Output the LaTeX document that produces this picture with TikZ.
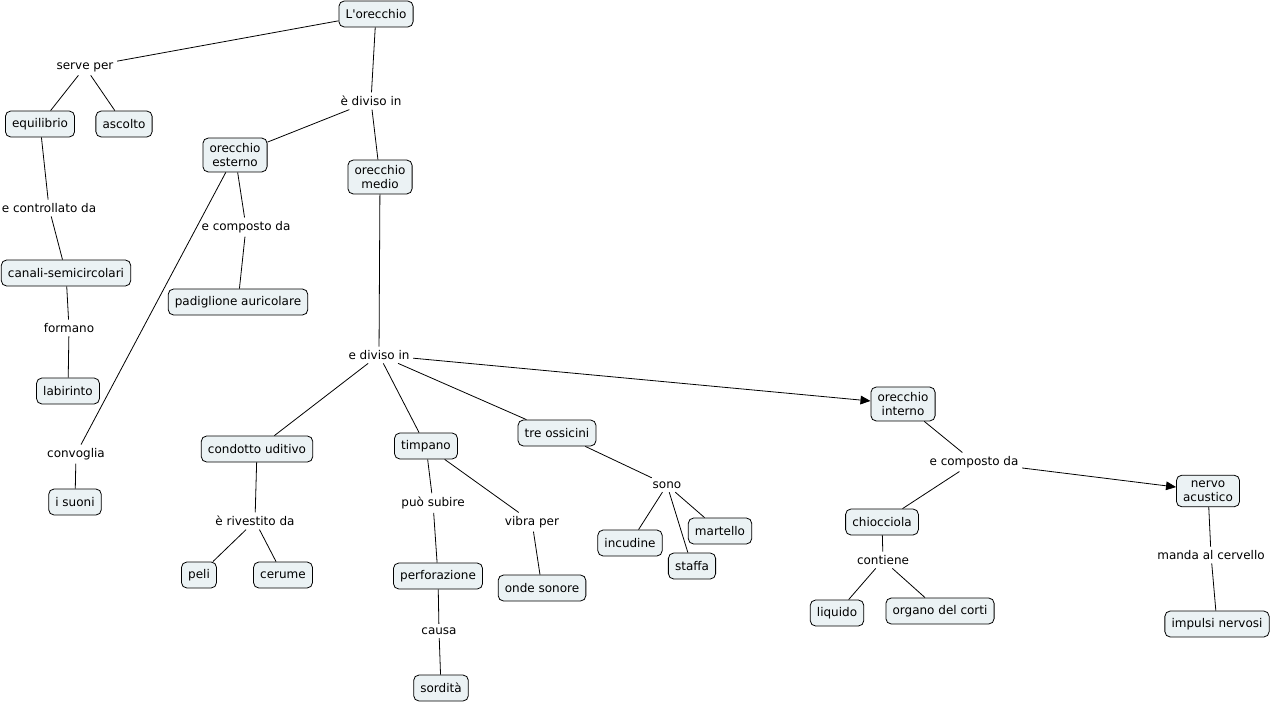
\documentclass[tikz,border=0pt]{standalone}
\usepackage{fontspec}
\setmainfont{DejaVu Sans}
\usetikzlibrary{arrows.meta,positioning}
\definecolor{cfill}{HTML}{EBF2F4}

\begin{document}
\begin{tikzpicture}[x=0.75pt,y=-0.75pt,semithick,font=\fontsize{9}{10.5}\selectfont,
    concept/.style={draw,rounded corners=4pt,fill=cfill,align=center,inner xsep=5pt,inner ysep=4pt,minimum height=19.5pt},
    link/.style={inner sep=2.5pt},
    arr/.style={-{Triangle[length=7.5pt,width=6.5pt]}}]
    \useasboundingbox (0,0) rectangle (1273,703);
    % concepts
    \node[concept] (ear) at (376,14) {L\textquotesingle orecchio};
    \node[concept] (equil) at (40,124) {equilibrio};
    \node[concept] (ascolto) at (124,124) {ascolto};
    \node[concept] (esterno) at (235,155) {orecchio\\esterno};
    \node[concept] (medio) at (380,177) {orecchio\\medio};
    \node[concept] (canali) at (66,273) {canali-semicircolari};
    \node[concept] (padig) at (238,302) {padiglione auricolare};
    \node[concept] (labir) at (68,391) {labirinto};
    \node[concept] (suoni) at (75,502) {i suoni};
    \node[concept] (condotto) at (257,449) {condotto uditivo};
    \node[concept] (timpano) at (426,446) {timpano};
    \node[concept] (ossicini) at (557,433) {tre ossicini};
    \node[concept] (interno) at (903,404) {orecchio\\interno};
    \node[concept] (nervo) at (1208,491) {nervo\\acustico};
    \node[concept] (incud) at (630,543) {incudine};
    \node[concept] (martel) at (720,531) {martello};
    \node[concept] (staffa) at (692,566) {staffa};
    \node[concept] (peli) at (199,575) {peli};
    \node[concept] (cerume) at (283,575) {cerume};
    \node[concept] (perfor) at (438,576) {perforazione};
    \node[concept] (onde) at (542,588) {onde sonore};
    \node[concept] (sordita) at (441,688) {sordità};
    \node[concept] (chioc) at (882,522) {chiocciola};
    \node[concept] (liquido) at (837,613) {liquido};
    \node[concept] (organo) at (940,611) {organo del corti};
    \node[concept] (impulsi) at (1217,624) {impulsi nervosi};
    % linking phrases
    \node[link] (serve) at (85,67) {serve per};
    \node[link] (diviso) at (371,101) {è diviso in};
    \node[link] (ctrl) at (49,208) {e controllato da};
    \node[link] (compA) at (246,227) {e composto da};
    \node[link] (formano) at (69,328) {formano};
    \node[link] (divisoB) at (379,355) {e diviso in};
    \node[link] (convog) at (76,454) {convoglia};
    \node[link] (rivest) at (255,521) {è rivestito da};
    \node[link] (subire) at (433,503) {può subire};
    \node[link] (vibra) at (532,522) {vibra per};
    \node[link] (sono) at (667,485) {sono};
    \node[link] (causa) at (439,631) {causa};
    \node[link] (compB) at (974,462) {e composto da};
    \node[link] (contiene) at (883,560) {contiene};
    \node[link] (manda) at (1211,555) {manda al cervello};
    % connectors
    \draw (ear) -- (serve);
    \draw (serve) -- (equil);
    \draw (serve) -- (ascolto);
    \draw (ear) -- (diviso);
    \draw (diviso) -- (esterno);
    \draw (diviso) -- (medio);
    \draw (equil) -- (ctrl) -- (canali);
    \draw (canali) -- (formano) -- (labir);
    \draw (esterno) -- (compA) -- (padig);
    \draw (esterno) -- (convog) -- (suoni);
    \draw (medio) -- (divisoB);
    \draw (divisoB) -- (condotto);
    \draw (divisoB) -- (timpano);
    \draw (divisoB) -- (ossicini);
    \draw[arr] (divisoB) -- (interno);
    \draw (condotto) -- (rivest);
    \draw (rivest) -- (peli);
    \draw (rivest) -- (cerume);
    \draw (timpano) -- (subire) -- (perfor);
    \draw (timpano) -- (vibra) -- (onde);
    \draw (perfor) -- (causa) -- (sordita);
    \draw (ossicini) -- (sono);
    \draw (sono) -- (incud);
    \draw (sono) -- (staffa);
    \draw (sono) -- (martel);
    \draw (interno) -- (compB);
    \draw (compB) -- (chioc);
    \draw[arr] (compB) -- (nervo);
    \draw (chioc) -- (contiene);
    \draw (contiene) -- (liquido);
    \draw (contiene) -- (organo);
    \draw (nervo) -- (manda) -- (impulsi);
\end{tikzpicture}
\end{document}
